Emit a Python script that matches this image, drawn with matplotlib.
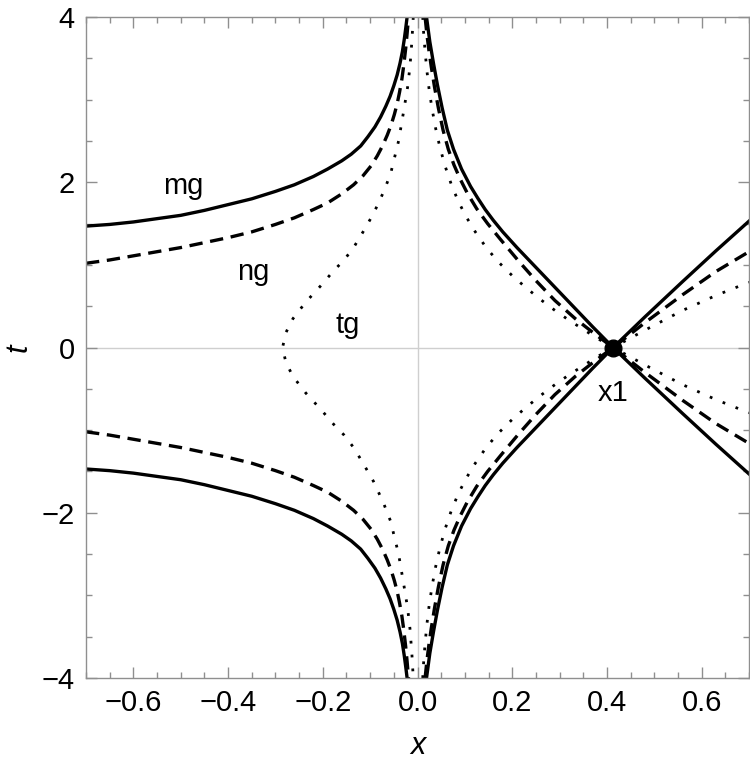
import numpy as np
import matplotlib
matplotlib.use("Agg")
import matplotlib.pyplot as plt
from matplotlib.ticker import MultipleLocator

plt.rcParams['font.family'] = ['Liberation Sans', 'DejaVu Sans']

# upper halves (the lower halves are the mirror t -> -t)
# left branches, x < 0
mg_left_x = [-0.70, -0.65, -0.60, -0.55, -0.50, -0.45, -0.40, -0.35, -0.30, -0.26,
             -0.22, -0.19, -0.16, -0.14, -0.12, -0.105, -0.09, -0.078, -0.067, -0.058,
             -0.050, -0.043, -0.037, -0.032, -0.028, -0.025, -0.022]
mg_left_t = [1.47, 1.49, 1.52, 1.56, 1.60, 1.66, 1.73, 1.80, 1.89, 1.97,
             2.07, 2.16, 2.26, 2.34, 2.44, 2.55, 2.67, 2.79, 2.92, 3.04,
             3.17, 3.30, 3.44, 3.58, 3.73, 3.86, 4.0]

ng_left_x = [-0.70, -0.65, -0.60, -0.55, -0.50, -0.45, -0.40, -0.35, -0.30, -0.26,
             -0.22, -0.19, -0.16, -0.135, -0.115, -0.098, -0.085, -0.074, -0.064, -0.056,
             -0.049, -0.043, -0.038, -0.033, -0.029, -0.025, -0.022, -0.019]
ng_left_t = [1.02, 1.06, 1.11, 1.16, 1.21, 1.27, 1.33, 1.40, 1.49, 1.57,
             1.67, 1.75, 1.86, 1.97, 2.08, 2.20, 2.32, 2.44, 2.57, 2.69,
             2.82, 2.95, 3.09, 3.25, 3.42, 3.62, 3.80, 4.0]

# tg left branch turns round at t = 0
tg_left_x = [-0.009, -0.012, -0.016, -0.021, -0.029, -0.040, -0.057, -0.072, -0.093,
             -0.115, -0.135, -0.155, -0.177, -0.204, -0.236, -0.263, -0.278, -0.285]
tg_left_t = [4.0, 3.7, 3.4, 3.15, 2.87, 2.5, 2.1, 1.88, 1.62,
             1.40, 1.21, 1.06, 0.93, 0.75, 0.55, 0.35, 0.18, 0.0]

# right branches, from the top through x1 to the right edge
mg_right_x = [0.019, 0.026, 0.034, 0.042, 0.052, 0.063, 0.076, 0.093, 0.112, 0.127,
              0.143, 0.16, 0.18, 0.21, 0.25, 0.29, 0.33, 0.37, 0.413,
              0.48, 0.56, 0.63, 0.70]
mg_right_t = [4.0, 3.70, 3.43, 3.18, 2.90, 2.63, 2.40, 2.16, 1.95, 1.81,
              1.67, 1.54, 1.40, 1.21, 0.97, 0.73, 0.49, 0.25, 0.0,
              -0.37, -0.80, -1.17, -1.53]

ng_right_x = [0.016, 0.020, 0.024, 0.029, 0.036, 0.044, 0.054, 0.065, 0.077, 0.090,
              0.105, 0.125, 0.148, 0.175, 0.213, 0.25, 0.29, 0.333, 0.373, 0.413,
              0.48, 0.56, 0.63, 0.70]
ng_right_t = [4.0, 3.78, 3.60, 3.40, 3.15, 2.90, 2.63, 2.40, 2.21, 2.04,
              1.87, 1.68, 1.50, 1.31, 1.05, 0.81, 0.57, 0.35, 0.17, 0.0,
              -0.30, -0.64, -0.92, -1.16]

tg_right_x = [0.011, 0.013, 0.016, 0.020, 0.025, 0.031, 0.038, 0.047, 0.058, 0.071,
              0.086, 0.103, 0.122, 0.145, 0.170, 0.20, 0.23, 0.26, 0.29, 0.32,
              0.35, 0.38, 0.413, 0.48, 0.56, 0.63, 0.70]
tg_right_t = [4.0, 3.80, 3.58, 3.34, 3.10, 2.88, 2.66, 2.43, 2.20, 1.98,
              1.77, 1.58, 1.40, 1.21, 1.04, 0.87, 0.72, 0.58, 0.45, 0.33,
              0.22, 0.11, 0.0, -0.21, -0.45, -0.63, -0.79]

x1 = 0.413

curve_labels = ['mg', 'ng', 'tg']
label_x = [-0.495, -0.347, -0.148]
label_t = [1.95, 0.91, 0.27]

fig = plt.figure(figsize=(7.5, 7.65), dpi=100)
ax = fig.add_axes([0.1147, 0.1137, 0.884, 0.864])

frame = '#8f8f8f'
ax.axhline(0, color='#cfcfcf', lw=1.0, zorder=0)
ax.axvline(0, color='#cfcfcf', lw=1.0, zorder=0)

styles = {
    'mg': dict(color='black', lw=2.4, ls='-'),
    'ng': dict(color='black', lw=2.4, ls=(0, (4.0, 2.3)), dash_capstyle='butt'),
    'tg': dict(color='black', lw=2.0, ls=(0, (1.0, 4.0)), dash_capstyle='butt'),
}

curves = {
    'mg': (mg_left_x, mg_left_t, mg_right_x, mg_right_t),
    'ng': (ng_left_x, ng_left_t, ng_right_x, ng_right_t),
    'tg': (tg_left_x, tg_left_t, tg_right_x, tg_right_t),
}

for name in curve_labels:
    lx, lt, rx, rt = curves[name]
    lx = np.array(lx)
    lt = np.array(lt)
    rx = np.array(rx)
    rt = np.array(rt)
    st = styles[name]
    if name == 'tg':
        # closed turn at t = 0: upper half then mirrored lower half
        ax.plot(np.concatenate([lx, lx[-2::-1]]), np.concatenate([lt, -lt[-2::-1]]), **st)
    else:
        ax.plot(lx, lt, **st)
        ax.plot(lx, -lt, **st)
    ax.plot(rx, rt, **st)
    ax.plot(rx, -rt, **st)

ax.plot([x1], [0], 'o', color='black', ms=12, zorder=5)

for name, lx_, lt_ in zip(curve_labels, label_x, label_t):
    ax.text(lx_, lt_, name, fontsize=21, ha='center', va='center')
ax.text(x1, -0.545, 'x1', fontsize=21, ha='center', va='center')

ax.set_xlim(-0.7, 0.7)
ax.set_ylim(-4, 4)
ax.xaxis.set_major_locator(MultipleLocator(0.2))
ax.xaxis.set_minor_locator(MultipleLocator(0.05))
ax.yaxis.set_major_locator(MultipleLocator(2))
ax.yaxis.set_minor_locator(MultipleLocator(0.5))
ax.xaxis.set_major_formatter(plt.FuncFormatter(lambda v, p: f'{v:.1f}'.replace('-', '\u2212')))

ax.tick_params(which='both', direction='in', top=True, right=True, color=frame,
               labelsize=21, labelcolor='black', width=1.0)
ax.tick_params(which='major', length=8, pad=8)
ax.tick_params(which='minor', length=4)
for s in ax.spines.values():
    s.set_color(frame)
    s.set_linewidth(1.0)

ax.set_xlabel('x', fontsize=22, style='italic', labelpad=10)
ax.set_ylabel('t', fontsize=22, style='italic', labelpad=6)

fig.savefig('out.png', dpi=100)
